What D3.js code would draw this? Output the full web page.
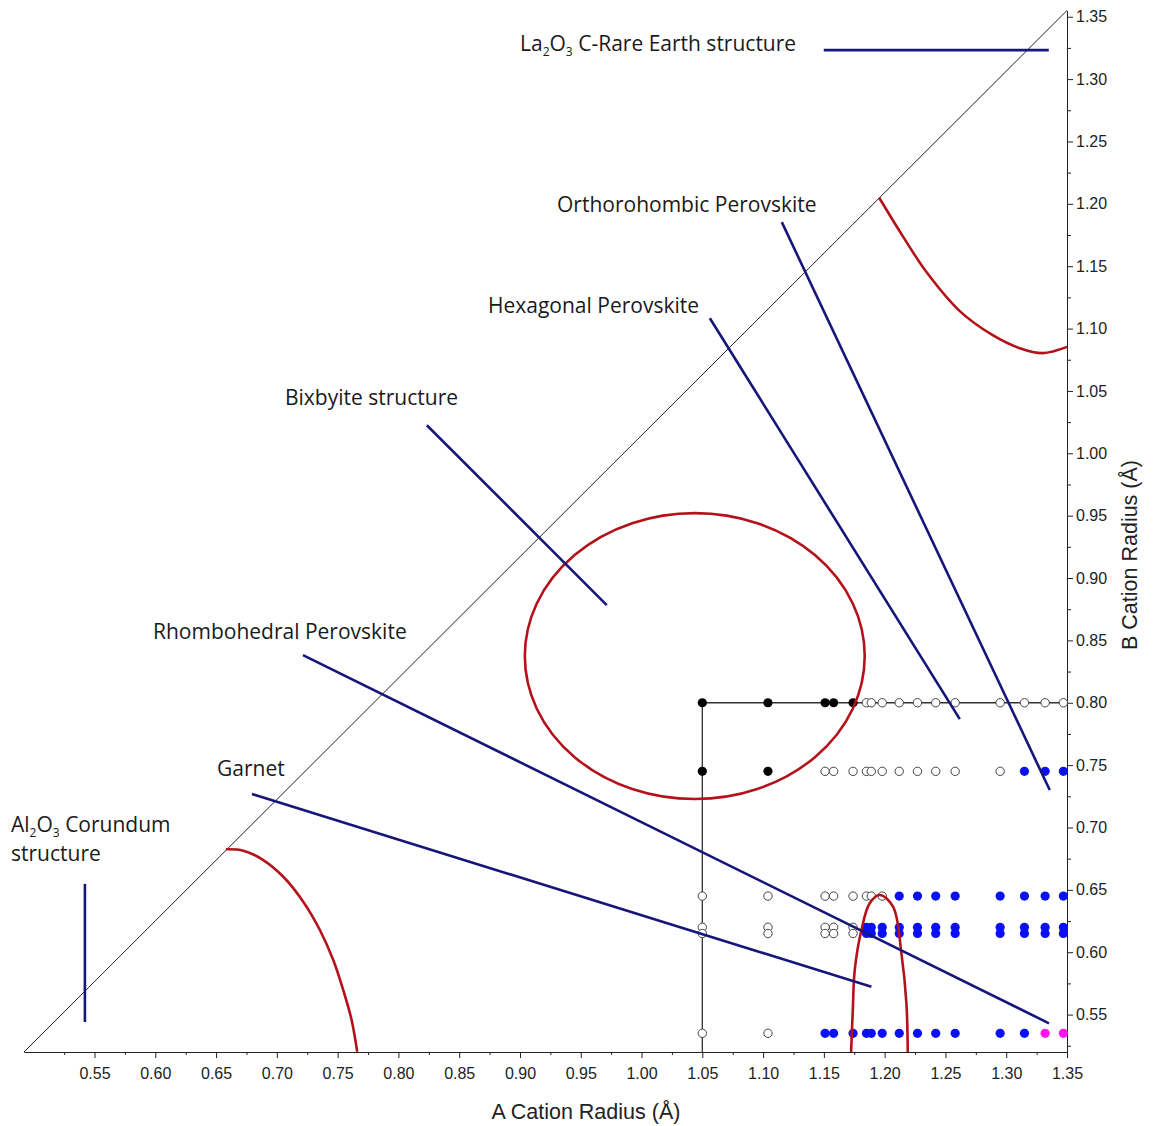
<!DOCTYPE html>
<html>
<head>
<meta charset="utf-8">
<script src="https://cdn.jsdelivr.net/npm/d3@7/dist/d3.min.js"></script>
<style>
  html, body { margin: 0; padding: 0; background: #fff; }
  svg { display: block; }
</style>
</head>
<body>
<svg id="chart" width="1156" height="1126"></svg>
<script>
// ---------------- DATA ----------------
// A-site cation radii (Å) of the compositions on the grid
const aRadii = [1.05, 1.104, 1.151, 1.158, 1.174, 1.185, 1.189, 1.198, 1.212, 1.227, 1.242, 1.258, 1.295, 1.315, 1.332, 1.347];
// B-site cation radii (Å) of the rows
const bRadii = [0.80, 0.745, 0.645, 0.62, 0.615, 0.535];
// status per row / column: k = filled black, o = open, b = blue, m = magenta
const rowStatus = [
  "kkkkkooooooooooo",
  "kkooooooooooobbb",
  "oooooooobbbbbbbb",
  "ooooobbbbbbbbbbb",
  "ooooobbbbbbbbbbb",
  "oobbbbbbbbbbbbmm"
];
// axis ticks
const xTicks = [0.55,0.60,0.65,0.70,0.75,0.80,0.85,0.90,0.95,1.00,1.05,1.10,1.15,1.20,1.25,1.30,1.35];
const xMinorTicks = [0.525,0.575,0.625,0.675,0.725,0.775,0.825,0.875,0.925,0.975,1.025,1.075,1.125,1.175,1.225,1.275,1.325];
const yTicks = [0.55,0.60,0.65,0.70,0.75,0.80,0.85,0.90,0.95,1.00,1.05,1.10,1.15,1.20,1.25,1.30,1.35];
const yMinorTicks = [0.525,0.575,0.625,0.675,0.725,0.775,0.825,0.875,0.925,0.975,1.025,1.075,1.125,1.175,1.225,1.275,1.325];
// diagonal boundary (corner to corner)
const diagonal = [[0.492, 0.52], [1.35, 1.355]];
// step guide at A = 1.05 / B = 0.80
const stepGuide = [[1.05, 0.52], [1.05, 0.80], [1.35, 0.80]];
// structure field boundaries
const orthoBoundary = [[1.1954,1.2051],[1.2149,1.1741],[1.2344,1.1453],[1.2618,1.1140],[1.2889,1.0947],[1.3111,1.0843],[1.3300,1.0803],[1.35,1.0853]];
const corundumBoundary = [[0.6581,0.6825],[0.6724,0.6814],[0.6888,0.6739],[0.7053,0.6605],[0.7217,0.6405],[0.7354,0.6178],[0.7464,0.5937],[0.7546,0.5697],[0.7615,0.5457],[0.7661,0.5202]];
const archBoundary = [[1.1724,0.52],[1.1738,0.5537],[1.1754,0.5858],[1.1809,0.6178],[1.1877,0.6392],[1.1959,0.6459],[1.2069,0.6365],[1.2138,0.5991],[1.2179,0.5590],[1.2190,0.52]];
// bixbyite ellipse: centre and semi-axes in Å
const bixbyiteEllipse = { cx: 1.0438, cy: 0.8374, rx: 0.1398, ry: 0.1146 };
// leader lines for the structure labels
const leaders = [
  [[1.1499,1.3232],[1.3350,1.3232]],   // La2O3
  [[1.1154,1.1853],[1.3358,0.7300]],   // Orthorhombic
  [[1.0562,1.1083],[1.2618,0.7869]],   // Hexagonal
  [[0.8234,1.0225],[0.9714,0.8783]],   // Bixbyite
  [[0.7215,0.8382],[1.3352,0.5430]],   // Rhombohedral
  [[0.6795,0.7268],[1.1891,0.5723]],   // Garnet
  [[0.5421,0.6548],[0.5421,0.5440]]    // Al2O3
];

// ---------------- LAYOUT ----------------
const svg = d3.select("#chart");
const x = d3.scaleLinear().domain([0.492, 1.35]).range([24, 1067]);
const y = d3.scaleLinear().domain([0.52, 1.355]).range([1052, 10.5]);
const NAVY = "#16167a", RED = "#b3121a", BLUE = "#0a10f5", MAGENTA = "#ff14f0";
const axisFont = "'Liberation Sans', Arial, sans-serif";
const labelFont = "'Open Sans', 'Noto Sans', sans-serif";

// axes
svg.append("g").attr("transform", `translate(0,${y(0.52)})`)
  .call(d3.axisBottom(x).tickValues(xMinorTicks).tickSize(3).tickSizeOuter(0).tickFormat(""));
svg.append("g").attr("transform", `translate(0,${y(0.52)})`)
  .call(d3.axisBottom(x).tickValues(xTicks).tickSize(6).tickSizeOuter(0).tickPadding(10).tickFormat(d3.format(".2f")));
svg.append("g").attr("transform", `translate(${x(1.35)},0)`)
  .call(d3.axisRight(y).tickValues(yMinorTicks).tickSize(4).tickSizeOuter(0).tickFormat(""));
svg.append("g").attr("transform", `translate(${x(1.35)},0)`)
  .call(d3.axisRight(y).tickValues(yTicks).tickSize(6).tickSizeOuter(0).tickPadding(3).tickFormat(d3.format(".2f")));
svg.selectAll(".domain").attr("stroke", "#222").attr("stroke-width", 1);
svg.selectAll(".tick line").attr("stroke", "#222");
svg.selectAll(".tick text").attr("font-family", axisFont).attr("font-size", 16).attr("fill", "#222");

// axis titles
svg.append("text").attr("x", 586).attr("y", 1119).attr("text-anchor", "middle")
  .attr("font-family", axisFont).attr("font-size", 21.5).attr("fill", "#222").text("A Cation Radius (Å)");
svg.append("text").attr("transform", "translate(1137,555) rotate(-90)").attr("text-anchor", "middle")
  .attr("font-family", axisFont).attr("font-size", 21.5).attr("fill", "#222").text("B Cation Radius (Å)");

// diagonal
const line = d3.line().x(d => x(d[0])).y(d => y(d[1]));
svg.append("path").attr("d", line(diagonal)).attr("fill", "none").attr("stroke", "#222").attr("stroke-width", 1);
// step guide
svg.append("path").attr("d", line(stepGuide)).attr("fill", "none").attr("stroke", "#333").attr("stroke-width", 1.3);

// dots
const dots = [];
bRadii.forEach((b, i) => {
  aRadii.forEach((a, j) => dots.push({ a, b, s: rowStatus[i][j] }));
});
svg.append("g").selectAll("circle").data(dots).join("circle")
  .attr("cx", d => x(d.a)).attr("cy", d => y(d.b)).attr("r", d => d.s === "o" ? 4.2 : 4.6)
  .attr("fill", d => d.s === "k" ? "#000" : d.s === "b" ? BLUE : d.s === "m" ? MAGENTA : "#fff")
  .attr("stroke", d => d.s === "o" ? "#444" : "none").attr("stroke-width", 1);

// red boundaries
const curve = d3.line().x(d => x(d[0])).y(d => y(d[1])).curve(d3.curveCatmullRom.alpha(0.5));
[orthoBoundary, corundumBoundary, archBoundary].forEach(pts => {
  svg.append("path").attr("d", curve(pts)).attr("fill", "none").attr("stroke", RED).attr("stroke-width", 2.6);
});
svg.append("ellipse")
  .attr("cx", x(bixbyiteEllipse.cx)).attr("cy", y(bixbyiteEllipse.cy))
  .attr("rx", x(bixbyiteEllipse.cx + bixbyiteEllipse.rx) - x(bixbyiteEllipse.cx))
  .attr("ry", y(bixbyiteEllipse.cy) - y(bixbyiteEllipse.cy + bixbyiteEllipse.ry))
  .attr("fill", "none").attr("stroke", RED).attr("stroke-width", 2.6);

// leader lines
leaders.forEach(seg => {
  svg.append("path").attr("d", line(seg)).attr("fill", "none").attr("stroke", NAVY).attr("stroke-width", 2.6);
});

// labels
function label(xp, yp, parts) {
  const t = svg.append("text").attr("x", xp).attr("y", yp)
    .attr("font-family", labelFont).attr("font-size", 21).attr("fill", "#1a1a1a");
  parts.forEach(p => {
    if (p.sub) {
      t.append("tspan").attr("font-size", 12).attr("dy", 5).text(p.t);
    } else {
      t.append("tspan").attr("dy", p.after ? -5 : 0).text(p.t);
    }
  });
}
label(520, 51, [{t:"La"},{t:"2",sub:1},{t:"O",after:1},{t:"3",sub:1},{t:" C-Rare Earth structure",after:1}]);
label(557, 212, [{t:"Orthorohombic Perovskite"}]);
label(488, 313, [{t:"Hexagonal Perovskite"}]);
label(285, 405, [{t:"Bixbyite structure"}]);
label(153, 639, [{t:"Rhombohedral Perovskite"}]);
label(217, 776, [{t:"Garnet"}]);
label(11, 832, [{t:"Al"},{t:"2",sub:1},{t:"O",after:1},{t:"3",sub:1},{t:" Corundum",after:1}]);
label(11, 861, [{t:"structure"}]);
</script>
</body>
</html>
